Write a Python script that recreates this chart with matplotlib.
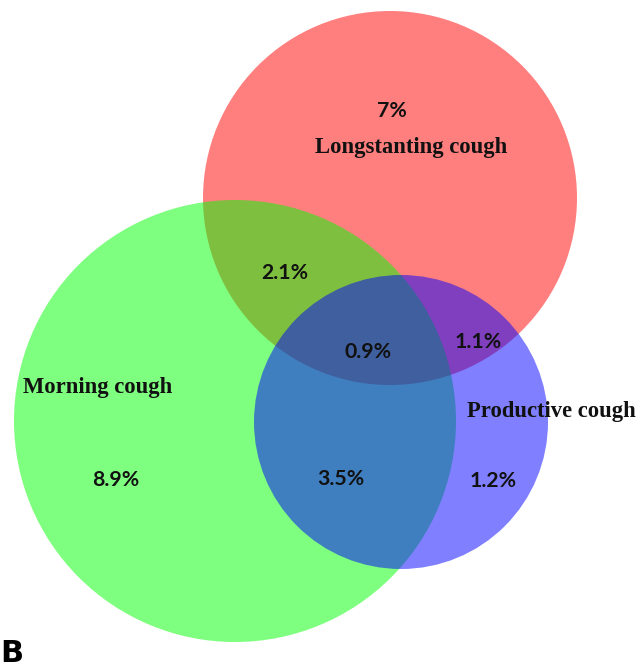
import matplotlib.pyplot as plt
from matplotlib.patches import Circle

# data
sets = ["Longstanting cough", "Morning cough", "Productive cough"]
set_colors = ["#ff0000", "#00ff00", "#0000ff"]
region_labels = ["7%", "8.9%", "1.2%", "2.1%", "1.1%", "3.5%", "0.9%"]

# layout (pixel coords of the original picture)
circles = [(390, 198, 187), (235, 421, 221), (401, 422, 147)]
set_label_pos = [(411, 147), (98, 388), (551, 412)]
region_pos = [(392, 111), (116, 480), (493, 481), (285, 273), (478, 342), (341, 479), (368, 352)]

fig = plt.figure(figsize=(6.37, 6.63), dpi=100)
ax = fig.add_axes([0, 0, 1, 1])
ax.set_xlim(0, 637)
ax.set_ylim(663, 0)
ax.set_aspect("equal")
ax.axis("off")

for (cx, cy, r), c in zip(circles, set_colors):
    ax.add_patch(Circle((cx, cy), r, facecolor=c, alpha=0.5, edgecolor="none"))

for name, (x, y) in zip(sets, set_label_pos):
    ax.text(x, y, name, ha="center", va="center", fontsize=16.3,
            fontfamily="Liberation Serif", fontweight="bold", color="#111111")

for lab, (x, y) in zip(region_labels, region_pos):
    ax.text(x, y, lab, ha="center", va="center", fontsize=15.3,
            fontfamily="Lato", fontweight="bold", color="#111111")

ax.text(0, 668, "B", ha="left", va="bottom", fontsize=22,
        fontfamily="DejaVu Sans", fontweight="bold")

fig.savefig("out.png", dpi=100)
